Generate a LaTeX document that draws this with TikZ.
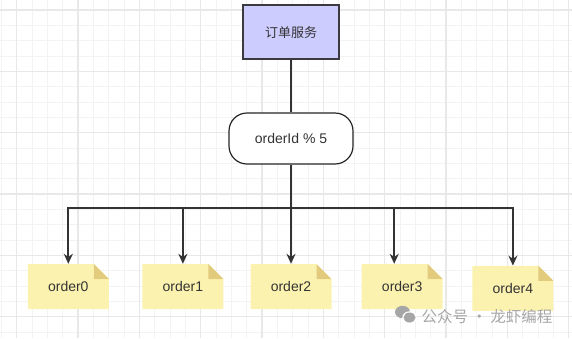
\documentclass[tikz,border=0pt]{standalone}
\usepackage{fontspec}
\setmainfont{Liberation Sans}
\newfontfamily\cjk{Noto Sans CJK SC}
\usepackage{tikz}
\usetikzlibrary{arrows.meta,positioning}
\usepackage{xcolor}
\definecolor{svcfill}{HTML}{CCCCFF}
\definecolor{edge}{HTML}{3A3A3F}
\definecolor{notefill}{HTML}{FCF2B0}
\definecolor{notefold}{HTML}{E2CB7D}
\definecolor{gridlo}{HTML}{F3F3F3}
\definecolor{gridhi}{HTML}{E8E8E8}
\definecolor{ink}{HTML}{333333}
\definecolor{wmgray}{HTML}{A6A6A6}

\tikzset{
  svcbox/.style={draw=edge, line width=1.5pt, fill=svcfill, minimum width=96pt, minimum height=54pt, inner sep=0pt, font=\cjk\fontsize{13}{15}\selectfont, text=ink},
  modbox/.style={draw=black!85, line width=1.2pt, fill=white, rounded corners=18pt, minimum width=124pt, minimum height=51pt, inner sep=0pt, font=\fontsize{14}{16}\selectfont, text=ink},
  notebox/.style={minimum width=81pt, minimum height=45pt, inner sep=0pt, font=\fontsize{14}{16}\selectfont, text=ink,
    path picture={
      \fill[notefill] (path picture bounding box.south west) -- (path picture bounding box.north west)
        -- ([xshift=-15pt]path picture bounding box.north east) -- ([yshift=-15pt]path picture bounding box.north east)
        -- (path picture bounding box.south east) -- cycle;
      \fill[notefold] ([xshift=-15pt]path picture bounding box.north east) -- ([xshift=-15pt,yshift=-15pt]path picture bounding box.north east)
        -- ([yshift=-15pt]path picture bounding box.north east) -- cycle;
    }},
  wire/.style={draw=ink, line width=1.7pt},
  arr/.style={wire, -{Stealth[length=10pt,width=9pt]}},
}

\begin{document}
\begin{tikzpicture}[x=1pt, y=-1pt]
\useasboundingbox (0,0) rectangle (572,338);
% background grid
\foreach \i in {0,...,37} {
  \pgfmathsetmacro{\gx}{1.37+15.333*\i}
  \draw[gridlo, line width=1pt] (\gx,0) -- (\gx,338);
}
\foreach \i in {0,...,22} {
  \pgfmathsetmacro{\gy}{10+15.333*\i}
  \draw[gridlo, line width=1pt] (0,\gy) -- (572,\gy);
}
\foreach \i in {0,...,9} {
  \pgfmathsetmacro{\gx}{16.7+61.333*\i}
  \draw[gridhi, line width=1.2pt] (\gx,0) -- (\gx,338);
}
\foreach \i in {0,...,5} {
  \pgfmathsetmacro{\gy}{10+61.333*\i}
  \draw[gridhi, line width=1.2pt] (0,\gy) -- (572,\gy);
}

\node[svcbox] (svc) at (291,32.2) {订单服务};
\node[modbox] (mod) at (291,138.5) {orderId \% 5};
\coordinate (bus) at (291,207.7);

\node[notebox] (o0) at (68.3,286.5) {order0};
\node[notebox] (o1) at (182.9,286.5) {order1};
\node[notebox] (o2) at (291,286.5) {order2};
\node[notebox] (o3) at (402.2,286.5) {order3};
\node[notebox] (o4) at (512.9,288.3) {order4};

\draw[wire] (svc) -- (mod);
\draw[wire] (mod) -- (bus);
\draw[arr] (bus) -| (o0.north);
\draw[arr] (bus) -| (o1.north);
\draw[arr] (bus) -- (o2.north);
\draw[arr] (bus) -| ([xshift=-8pt]o3.north);
\draw[arr] (bus) -| (o4.north);

% watermark
\fill[wmgray] (402.5,312) ellipse (7.5pt and 6.2pt);
\fill[white] (409.5,317.5) ellipse (7.2pt and 6.2pt);
\fill[wmgray] (409.5,317.5) ellipse (6pt and 5pt);
\node[font=\cjk\fontsize{15.5}{17}\selectfont, text=wmgray] (wm) at (487,316.7) {公众号 · 龙虾编程};
\end{tikzpicture}
\end{document}
